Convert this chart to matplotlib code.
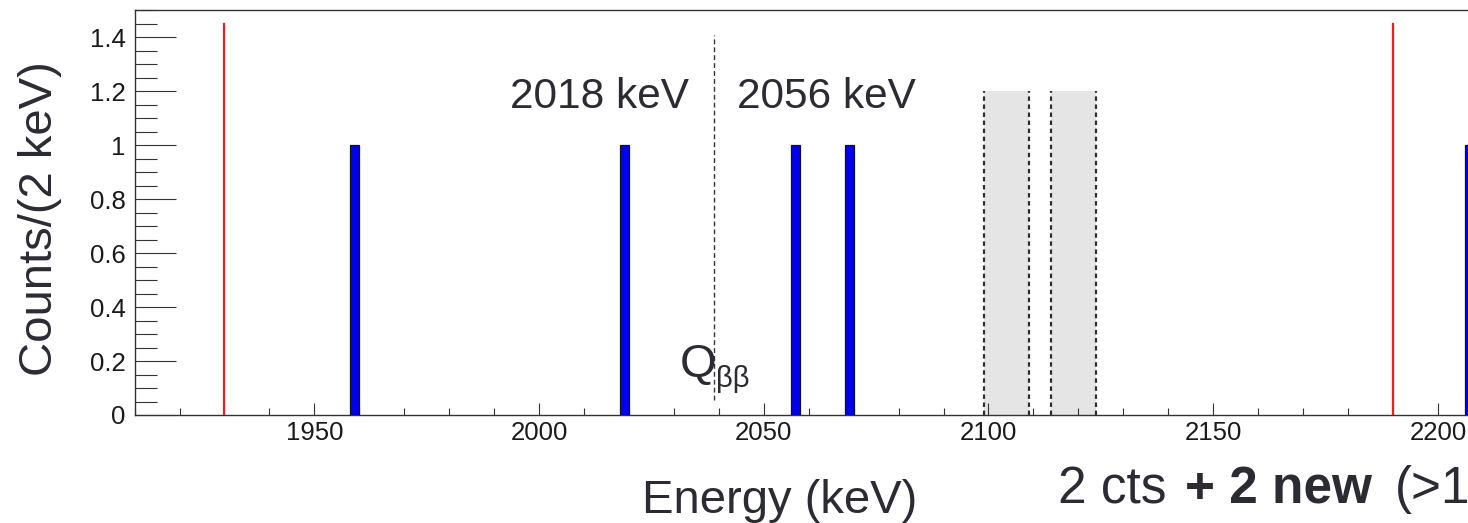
import matplotlib
matplotlib.use("Agg")
import matplotlib.pyplot as plt
from matplotlib.ticker import MultipleLocator, FuncFormatter

plt.rcParams["font.family"] = ["Liberation Sans", "DejaVu Sans"]
plt.rcParams["lines.scale_dashes"] = False

# --- data ---
bin_lefts = [1958, 2018, 2056, 2068, 2206]   # keV, lower bin edge
bin_counts = [1, 1, 1, 1, 1]
bin_width = 2                                  # keV

window_edges = [1930, 2190]                    # red lines
window_height = 1.45

q_bb = 2039                                    # Q_bb line
q_line_range = (0.055, 1.41)

excl_lo = [2099, 2114]                         # excluded regions (gray)
excl_hi = [2109, 2124]
excl_height = 1.2

peak_labels = ["2018 keV", "2056 keV"]
peak_label_x = [1993.6, 2044.0]

W, H = 1468, 523
fig = plt.figure(figsize=(W / 100, H / 100), dpi=100)
ax = fig.add_axes([134.6 / W, 1 - 415 / H, 1 - 134.6 / W, 404.6 / H])

dark = "#2b2b33"

# gray exclusion windows with dashed borders
for lo, hi in zip(excl_lo, excl_hi):
    ax.fill_between([lo, hi], 0, excl_height, color="#e5e5e5", lw=0, zorder=1)
    for xx in (lo, hi):
        ax.plot([xx, xx], [0, excl_height], color="#2e2e2e", lw=1.6,
                ls=(0, (3.2, 2.6)), zorder=2)

# histogram bins
ax.bar(bin_lefts, bin_counts, width=bin_width, align="edge",
       color="#0000f0", edgecolor="#101020", lw=0.9, zorder=3)

# red window lines
for xx in window_edges:
    ax.plot([xx, xx], [0, window_height], color="#ee1c24", lw=1.6, zorder=3)

# Q_bb dashed line
ax.plot([q_bb, q_bb], list(q_line_range), color="#333333", lw=1.0,
        ls=(0, (3.5, 2.2)), zorder=3)

ax.set_xlim(1910, 2206.7)
ax.set_ylim(0, 1.5)

ax.xaxis.set_major_locator(MultipleLocator(50))
ax.xaxis.set_minor_locator(MultipleLocator(10))
ax.yaxis.set_major_locator(MultipleLocator(0.2))
ax.yaxis.set_minor_locator(MultipleLocator(0.05))
ax.yaxis.set_major_formatter(FuncFormatter(lambda v, p: "%g" % round(v, 2)))

ax.tick_params(axis="both", which="both", direction="in", color="#333333",
               width=0.8, labelsize=18.5, labelcolor="#1a1a1a")
ax.tick_params(axis="x", which="major", length=8.6, pad=4.5)
ax.tick_params(axis="x", which="minor", length=5.3)
ax.tick_params(axis="y", which="major", length=29.5, pad=6.5)
ax.tick_params(axis="y", which="minor", length=15.5)

ax.spines["right"].set_visible(False)
for s in ("left", "bottom", "top"):
    ax.spines[s].set_color("#333333")
    ax.spines[s].set_linewidth(1.0)

# annotations
for txt, xx in zip(peak_labels, peak_label_x):
    ax.text(xx, 1.138, txt, fontsize=30.5, color=dark, ha="left", va="baseline")

ax.text(2031.2, 0.142, "Q", fontsize=34, color=dark, ha="left", va="baseline")
ax.text(2039.4, 0.104, "ββ", fontsize=21, color=dark, ha="left", va="baseline")

# axis titles
fig.text(52 / W, 1 - 218.5 / H, "Counts/(2 keV)", fontsize=34, color=dark,
         rotation=90, rotation_mode="anchor", ha="center", va="baseline")
fig.text(780 / W, 1 - 513 / H, "Energy (keV)", fontsize=34, color=dark,
         ha="center", va="baseline")

# bottom-right note
fig.text(1058 / W, 1 - 503 / H, "2 cts", fontsize=37, color=dark,
         ha="left", va="baseline")
fig.text(1185 / W, 1 - 503 / H, "+ 2 new", fontsize=37, color=dark,
         fontweight="bold", ha="left", va="baseline")
fig.text(1395 / W, 1 - 503 / H, "(>1", fontsize=37, color=dark,
         ha="left", va="baseline")

fig.savefig("out.png", dpi=100)
